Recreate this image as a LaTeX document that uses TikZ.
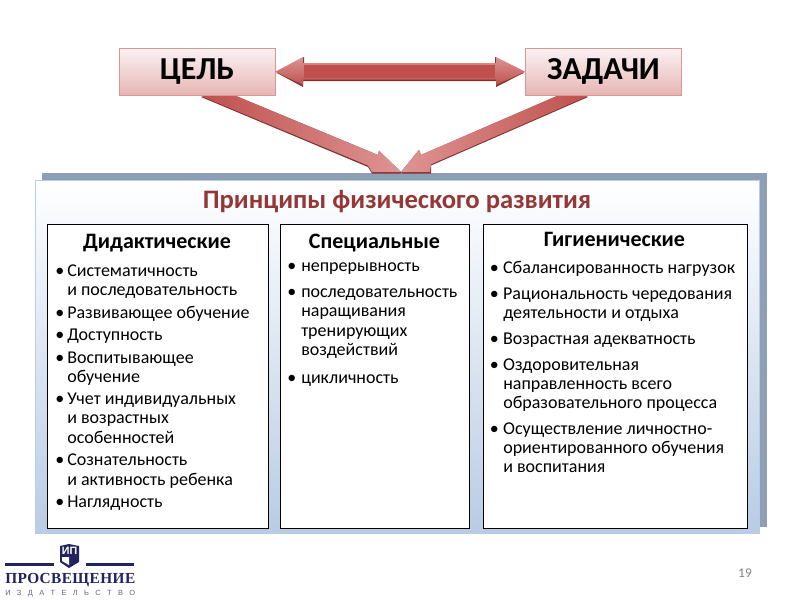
\documentclass[tikz,border=0pt]{standalone}
\usepackage{fontspec}
\setmainfont{Carlito}
\newfontfamily\logoserif{Liberation Serif}
\newfontfamily\logosans{Liberation Sans}
\usetikzlibrary{calc}
\definecolor{boxtop}{HTML}{FBF2F2}
\definecolor{boxbot}{HTML}{E6B5B4}
\definecolor{boxedge}{HTML}{D99694}
\definecolor{arrowmid}{HTML}{BF504D}
\definecolor{arrowlight}{HTML}{DD9593}
\definecolor{arrowdark}{HTML}{7F3230}
\definecolor{panelshadow}{HTML}{8E9FB5}
\definecolor{paneledge}{HTML}{B8CCE4}
\definecolor{titlered}{HTML}{953735}
\definecolor{logoblue}{HTML}{23235F}
\newcommand\bl[1]{\makebox[#1][l]{•}}
\tikzset{
  x=0.75pt,y=-0.75pt,
  goalbox/.style={draw=boxedge,line width=0.6pt,top color=boxtop,bottom color=boxbot,minimum width=117pt,minimum height=35.25pt,inner sep=0pt,font=\fontsize{24}{24}\selectfont\bfseries,text=black},
  listbox/.style={draw=black,line width=0.75pt,fill=white,inner sep=0pt},
  headtxt/.style={font=\fontsize{16.5}{16.5}\selectfont\bfseries,text=black,inner sep=0pt,anchor=base},
  itemtxt/.style={font=\fontsize{13.5}{13.5}\selectfont,text=black,inner sep=0pt,anchor=base west},
  shadowpoly/.style={fill=arrowdark,draw=none},
}
\begin{document}
\begin{tikzpicture}
\useasboundingbox (0,0) rectangle (800,600);
\fill[white] (0,0) rectangle (800,600);
% panel
\fill[panelshadow] (42,173) rectangle (767,527);
\path[draw=paneledge,line width=0.75pt,top color=white,bottom color=paneledge] (35,180) rectangle (759,533);
\node[font=\fontsize{20}{20}\selectfont\bfseries,text=titlered,inner sep=0pt,anchor=base] (title) at (397,208) {Принципы физического развития};
% goal boxes
\node[goalbox] (cel) at (197,71.7) {\raisebox{-2pt}{ЦЕЛЬ}};
\node[goalbox] (zad) at (603.5,71.7) {\raisebox{-2pt}{ЗАДАЧИ}};
\coordinate (hub) at (401,172);
% double arrow
\fill[shadowpoly] ($(cel.east)+(1,1)$) -- (304,57) -- (304,64) -- (495,64) -- (495,57) -- ($(zad.west)+(-1,1)$) -- (496,87) -- (496,81) -- (303,81) -- (303,87) -- cycle;
\shade[top color=arrowlight,bottom color=arrowmid] (cel.east) -- (303,57) -- (303,63) -- (496,63) -- (496,57) -- (zad.west) -- (496,85) -- (496,79.5) -- (303,79.5) -- (303,85) -- cycle;
\fill[arrowmid] (304,65) rectangle (495,78);
% left diagonal arrow
\fill[shadowpoly] (201,97) -- (236,96) -- (378,155) -- (379,150.7) -- (hub) -- (401,173.5) -- (372,173.5) -- (368,167) -- cycle;
\shade[left color=arrowmid,right color=arrowlight] (201,96) -- (236,96) -- (378,155) -- (379,150.7) -- (hub) -- (372,172) -- (368,165.5) -- cycle;
% right diagonal arrow
\fill[shadowpoly] (588,97) -- (557,96) -- (421,155) -- (419,150) -- (hub) -- (402,173.5) -- (431,173.5) -- (431,165.5) -- cycle;
\shade[right color=arrowmid,left color=arrowlight] (588,96) -- (557,96) -- (421,154.8) -- (419,150) -- (hub) -- (430,172) -- (431,164.3) -- cycle;
% list boxes
\node[listbox,minimum width=166pt,minimum height=228pt] (did) at (157.8,376) {};
\node[listbox,minimum width=142pt,minimum height=228pt] (spe) at (374.8,376) {};
\node[listbox,minimum width=198.25pt,minimum height=228pt] (gig) at (615.2,376) {};
% left column
\node[headtxt] (h1) at (157,248.5) {Дидактические};
\node[itemtxt] (a1) at (55,276) {\bl{9pt}Систематичность};
\node[itemtxt] (a1b) at (67,295) {и последовательность};
\node[itemtxt] (a2) at (55,318) {\bl{9pt}Развивающее обучение};
\node[itemtxt] (a3) at (55,340) {\bl{9pt}Доступность};
\node[itemtxt] (a4) at (55,363) {\bl{9pt}Воспитывающее};
\node[itemtxt] (a4b) at (67,382) {обучение};
\node[itemtxt] (a5) at (55,404) {\bl{9pt}Учет индивидуальных};
\node[itemtxt] (a5b) at (67,423) {и возрастных};
\node[itemtxt] (a5c) at (67,443) {особенностей};
\node[itemtxt] (a6) at (55,465) {\bl{9pt}Сознательность};
\node[itemtxt] (a6b) at (67,485) {и активность ребенка};
\node[itemtxt] (a7) at (55,507) {\bl{9pt}Наглядность};
% middle column
\node[headtxt] (h2) at (374.5,248.5) {Специальные};
\node[itemtxt] (b1) at (287,271.5) {\bl{10.5pt}непрерывность};
\node[itemtxt] (b2) at (287,297.5) {\bl{10.5pt}последовательность};
\node[itemtxt] (b2b) at (301,316.5) {наращивания};
\node[itemtxt] (b2c) at (301,336.5) {тренирующих};
\node[itemtxt] (b2d) at (301,355.5) {воздействий};
\node[itemtxt] (b3) at (287,383.5) {\bl{10.5pt}цикличность};
% right column
\node[headtxt] (h3) at (614.5,246.5) {Гигиенические};
\node[itemtxt] (c1) at (489.5,273.5) {\bl{10pt}Сбалансированность нагрузок};
\node[itemtxt] (c2) at (489.5,299.5) {\bl{10pt}Рациональность чередования};
\node[itemtxt] (c2b) at (503,318.5) {деятельности и отдыха};
\node[itemtxt] (c3) at (489.5,344.5) {\bl{10pt}Возрастная адекватность};
\node[itemtxt] (c4) at (489.5,370.5) {\bl{10pt}Оздоровительная};
\node[itemtxt] (c4b) at (503,389.5) {направленность всего};
\node[itemtxt] (c4c) at (503,408.5) {образовательного процесса};
\node[itemtxt] (c5) at (489.5,434.5) {\bl{10pt}Осуществление личностно-};
\node[itemtxt] (c5b) at (503,453.5) {ориентированного обучения};
\node[itemtxt] (c5c) at (503,472.5) {и воспитания};
% page number
\node[font=\fontsize{10}{10}\selectfont,text=black!50,inner sep=0pt,anchor=base] (pg) at (745,577) {19};
% logo
\fill[logoblue] (5,563) rectangle (54,565.5);
\fill[logoblue] (86,563) rectangle (134,565.5);
\fill[logoblue] (60,546) -- (69,544) -- (79,546) -- (79,562) -- (69,568) -- (60,562) -- cycle;
\fill[white] (62,557) -- (69,557) -- (69,565) -- (62,561) -- cycle;
\node[font=\fontsize{8}{8}\selectfont\logosans\bfseries,text=white,inner sep=0pt] (shield) at (69.5,551) {ИП};
\node[font=\fontsize{11.5}{11.5}\selectfont\logoserif\bfseries,text=logoblue,inner sep=0pt,anchor=base west] (pub) at (5,583.5) {\makebox[97.5pt][s]{П\hfill Р\hfill О\hfill С\hfill В\hfill Е\hfill Щ\hfill Е\hfill Н\hfill И\hfill Е}};
\node[font=\fontsize{5.6}{5.6}\selectfont\logosans,text=logoblue!70,inner sep=0pt,anchor=base west] (pubsub) at (5,595) {\makebox[97.5pt][s]{И\hfill З\hfill Д\hfill А\hfill Т\hfill Е\hfill Л\hfill Ь\hfill С\hfill Т\hfill В\hfill О}};
\end{tikzpicture}
\end{document}
